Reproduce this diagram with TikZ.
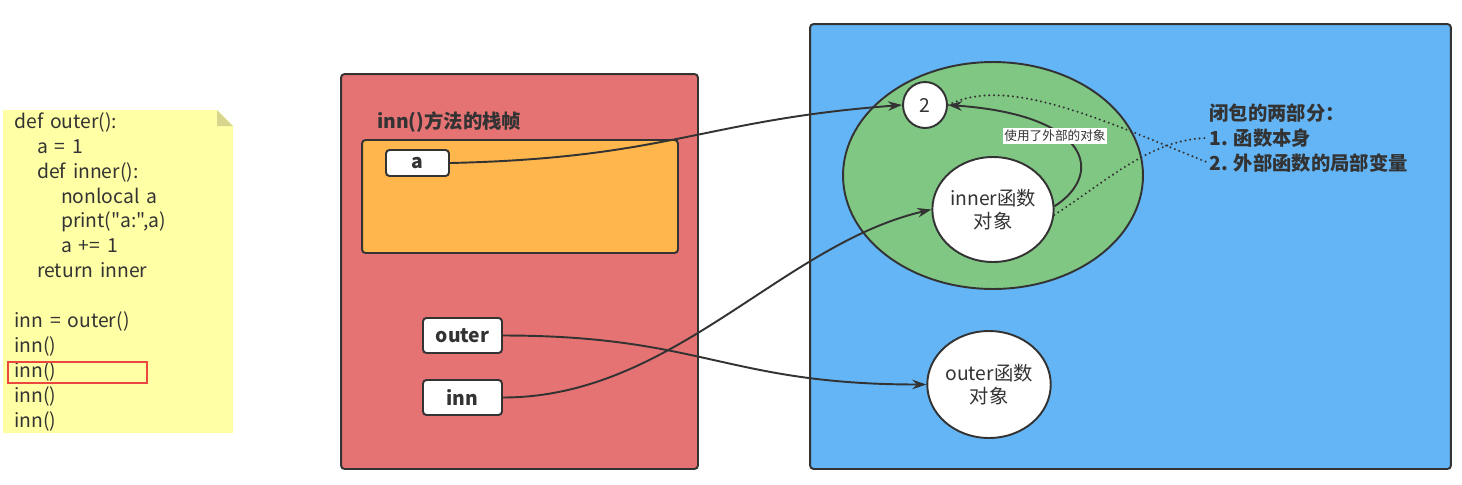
\documentclass[tikz,border=0pt]{standalone}
\usepackage{fontspec}
\setmainfont{Noto Sans CJK SC}
\newfontfamily\codefont{Noto Sans CJK SC}[WordSpace=1.6]
\usetikzlibrary{arrows.meta,shapes.geometric}
\definecolor{ink}{HTML}{333333}
\definecolor{notebg}{HTML}{FFFFA6}
\definecolor{notefold}{HTML}{D6D68C}
\definecolor{framered}{HTML}{E57373}
\definecolor{frameorange}{HTML}{FFB74D}
\definecolor{frameblue}{HTML}{64B5F6}
\definecolor{closuregreen}{HTML}{81C784}
\definecolor{hired}{HTML}{E9473F}
\tikzset{
  boxline/.style  = {draw=ink,line width=1.1pt,rounded corners=2pt,inner sep=0pt},
  varbox/.style   = {boxline,fill=white,text=ink,font=\fontsize{11}{13}\selectfont\bfseries},
  objnode/.style  = {ellipse,draw=ink,line width=1.1pt,fill=white,text=ink,align=center,
                     inner sep=0pt,font=\fontsize{11}{13.5}\selectfont},
  code/.style     = {anchor=north west,align=left,inner sep=0pt,text=ink,
                     font=\codefont\fontsize{11}{14.2}\selectfont},
  side/.style     = {anchor=west,inner sep=0pt,text=ink,font=\fontsize{11}{13}\selectfont\bfseries},
  hilite/.style   = {draw=hired,line width=1.2pt,minimum width=2.78cm,minimum height=0.42cm,inner sep=0pt},
  link/.style     = {-{Stealth[length=2.8mm,width=1.9mm]},ink,line width=1.1pt},
  hint/.style     = {ink,line width=1.3pt,line cap=round,dash pattern=on 0pt off 2.7pt},
  tag/.style      = {fill=white,text=ink,inner sep=1pt,font=\fontsize{7.2}{8}\selectfont}
}

\begin{document}
\begin{tikzpicture}[x=0.02cm,y=-0.02cm]
  \useasboundingbox (0,0) rectangle (1462,484);
  % source listing
  \fill[notebg] (3,110) -- (217,110) -- (233,126) -- (233,433) -- (3,433) -- cycle;
  \fill[notefold] (217,110) -- (233,126) -- (217,126) -- cycle;
  \node[code] (listing) at (14,112) {def outer():\\
    \hspace*{13pt}a = 1\\
    \hspace*{13pt}def inner():\\
    \hspace*{26.6pt}nonlocal a\\
    \hspace*{26.6pt}print("a:",a)\\
    \hspace*{26.6pt}a += 1\\
    \hspace*{13pt}return inner\\[14.2pt]
    inn = outer()\\
    inn()\\
    inn()\\
    inn()\\
    inn()};
  \node[hilite] (hl) at (77.5,372.5) {};
  % stack frame of inn()
  \node[boxline,fill=framered,minimum width=7.14cm,minimum height=7.90cm] (stack) at (519.5,271.5) {};
  \node[side] (frametitle) at (377,122) {inn()方法的栈帧};
  \node[boxline,fill=frameorange,minimum width=6.32cm,minimum height=2.26cm] (locals) at (520,196.5) {};
  \node[varbox,minimum width=1.26cm,minimum height=0.52cm] (a) at (417.5,163) {a};
  \node[varbox,minimum width=1.58cm,minimum height=0.70cm] (outer) at (462.5,335.5) {outer};
  \node[varbox,minimum width=1.58cm,minimum height=0.70cm] (inn) at (462.5,397.5) {inn};
  % heap
  \node[boxline,fill=frameblue,minimum width=12.82cm,minimum height=8.90cm] (heap) at (1130.5,246.5) {};
  \node[ellipse,draw=ink,line width=1.1pt,fill=closuregreen,minimum width=6cm,minimum height=4.54cm,
        inner sep=0pt] (closure) at (993,175.5) {};
  \node[objnode,minimum width=0.88cm,minimum height=0.92cm] (two) at (925,105) {2};
  \node[objnode,minimum width=2.40cm,minimum height=2.10cm] (inner) at (993,209.5) {inner函数\\对象};
  \node[objnode,minimum width=2.44cm,minimum height=2.14cm] (outerobj) at (989,384.5) {outer函数\\对象};
  \node[side] (parts) at (1209,113) {闭包的两部分：};
  \node[side] (part1) at (1209,138) {1. 函数本身};
  \node[side] (part2) at (1209,163) {2. 外部函数的局部变量};
  % references
  \draw[link] (a.east) .. controls +(220,-5) and +(-200,15) .. (two.west);
  \draw[link] (outer.east) .. controls +(200,0) and +(-200,0) .. (outerobj.west);
  \draw[link] (inn.east) .. controls +(170,0) and +(-150,35) .. (inner.west);
  \draw[link] (inner.3) .. controls +(50,-32) and +(143,10) .. (two.east);
  \node[tag] (uses) at (1055,136) {使用了外部的对象};
  \draw[hint] (inner.-5) .. controls +(53,-34) and +(-57,0) .. (part1.west);
  \draw[hint] (two.east) .. controls +(60,-30) and +(-107,-43) .. (part2.west);
\end{tikzpicture}
\end{document}
